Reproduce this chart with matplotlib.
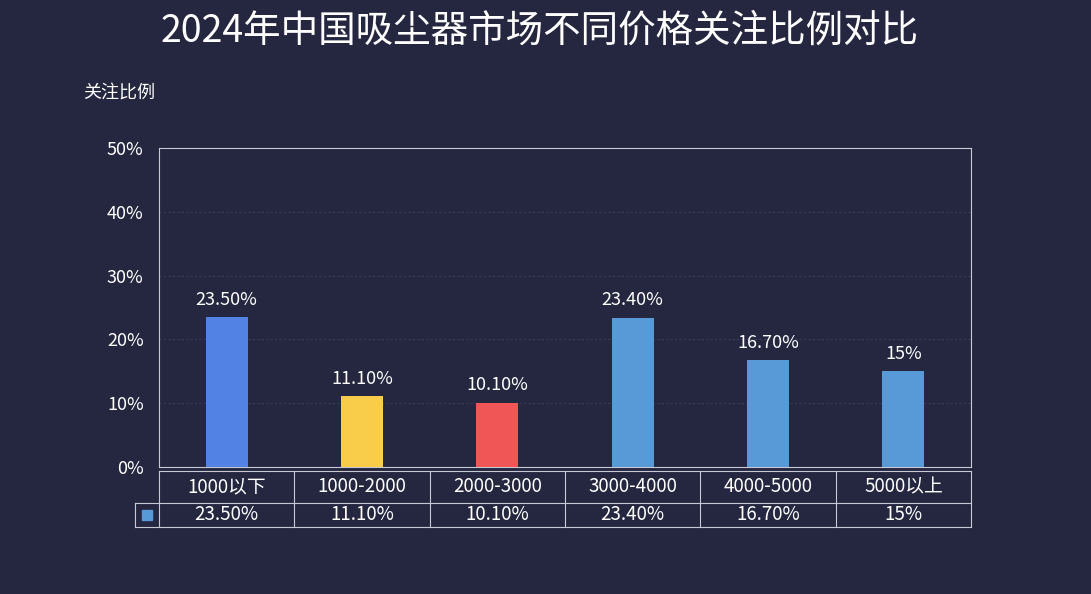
import matplotlib.pyplot as plt
from matplotlib.transforms import blended_transform_factory

plt.rcParams['font.family'] = ['Noto Sans CJK SC', 'DejaVu Sans']

categories = ["1000以下", "1000-2000", "2000-3000", "3000-4000", "4000-5000", "5000以上"]
values = [23.5, 11.1, 10.1, 23.4, 16.7, 15]
value_labels = ["23.50%", "11.10%", "10.10%", "23.40%", "16.70%", "15%"]
bar_colors = ["#5282e3", "#f9cc49", "#f05656", "#5899d8", "#5899d8", "#5899d8"]

BG = "#252740"
LINE = "#c8c9d2"

fig = plt.figure(figsize=(10.91, 5.94), dpi=100, facecolor=BG)
ax = fig.add_axes([159 / 1091, 1 - 467 / 594, 812 / 1091, 319 / 594], facecolor=BG)

x = list(range(len(categories)))
ax.bar(x, values, width=0.31, color=bar_colors, zorder=3)
for xi, v, lab in zip(x, values, value_labels):
    ax.annotate(lab, (xi, v), xytext=(0, 6), textcoords="offset points",
                ha="center", va="bottom", color="white", fontsize=13)

ax.set_xlim(-0.5, len(categories) - 0.5)
ax.set_ylim(0, 50)
ax.set_yticks([0, 10, 20, 30, 40, 50])
ax.set_yticklabels([f"{t}%" for t in [0, 10, 20, 30, 40, 50]], color="white", fontsize=13)
ax.tick_params(axis="y", length=0, pad=11)
ax.set_xticks([])
for t in [10, 20, 30, 40]:
    ax.axhline(t, color="#3a3d58", lw=0.8, ls=(0, (2, 2)), zorder=1)
for s in ax.spines.values():
    s.set_color(LINE)
    s.set_linewidth(0.8)

# data table under the axis
tr = blended_transform_factory(ax.transData, ax.transAxes)
y0 = -4 / 319
y1 = -36 / 319
y2 = -60 / 319
xl = -0.5
xr = len(categories) - 0.5
xleg = -0.5 - 24 / (812 / 6)
kw = dict(color=LINE, lw=0.8, transform=tr, clip_on=False)
ax.plot([xl, xr], [y0, y0], **kw)
ax.plot([xleg, xr], [y1, y1], **kw)
ax.plot([xleg, xr], [y2, y2], **kw)
ax.plot([xleg, xleg], [y1, y2], **kw)
for b in range(len(categories) + 1):
    ax.plot([b - 0.5, b - 0.5], [y0, y2], **kw)
for xi, cat, lab in zip(x, categories, value_labels):
    ax.text(xi, (y0 + y1) / 2, cat, transform=tr, ha="center", va="center",
            color="white", fontsize=13.5)
    ax.text(xi, (y1 + y2) / 2, lab, transform=tr, ha="center", va="center",
            color="white", fontsize=13.5)
ax.plot([(xleg + xl) / 2], [(y1 + y2) / 2], marker="s", ms=7, color="#5899d8",
        transform=tr, clip_on=False)

fig.text(540 / 1091, 1 - 31 / 594, "2024年中国吸尘器市场不同价格关注比例对比",
         ha="center", va="center", color="white", fontsize=27)
fig.text(83 / 1091, 1 - 93 / 594, "关注比例", ha="left", va="center",
         color="white", fontsize=13)

fig.savefig("out.png", dpi=100, facecolor=BG)
